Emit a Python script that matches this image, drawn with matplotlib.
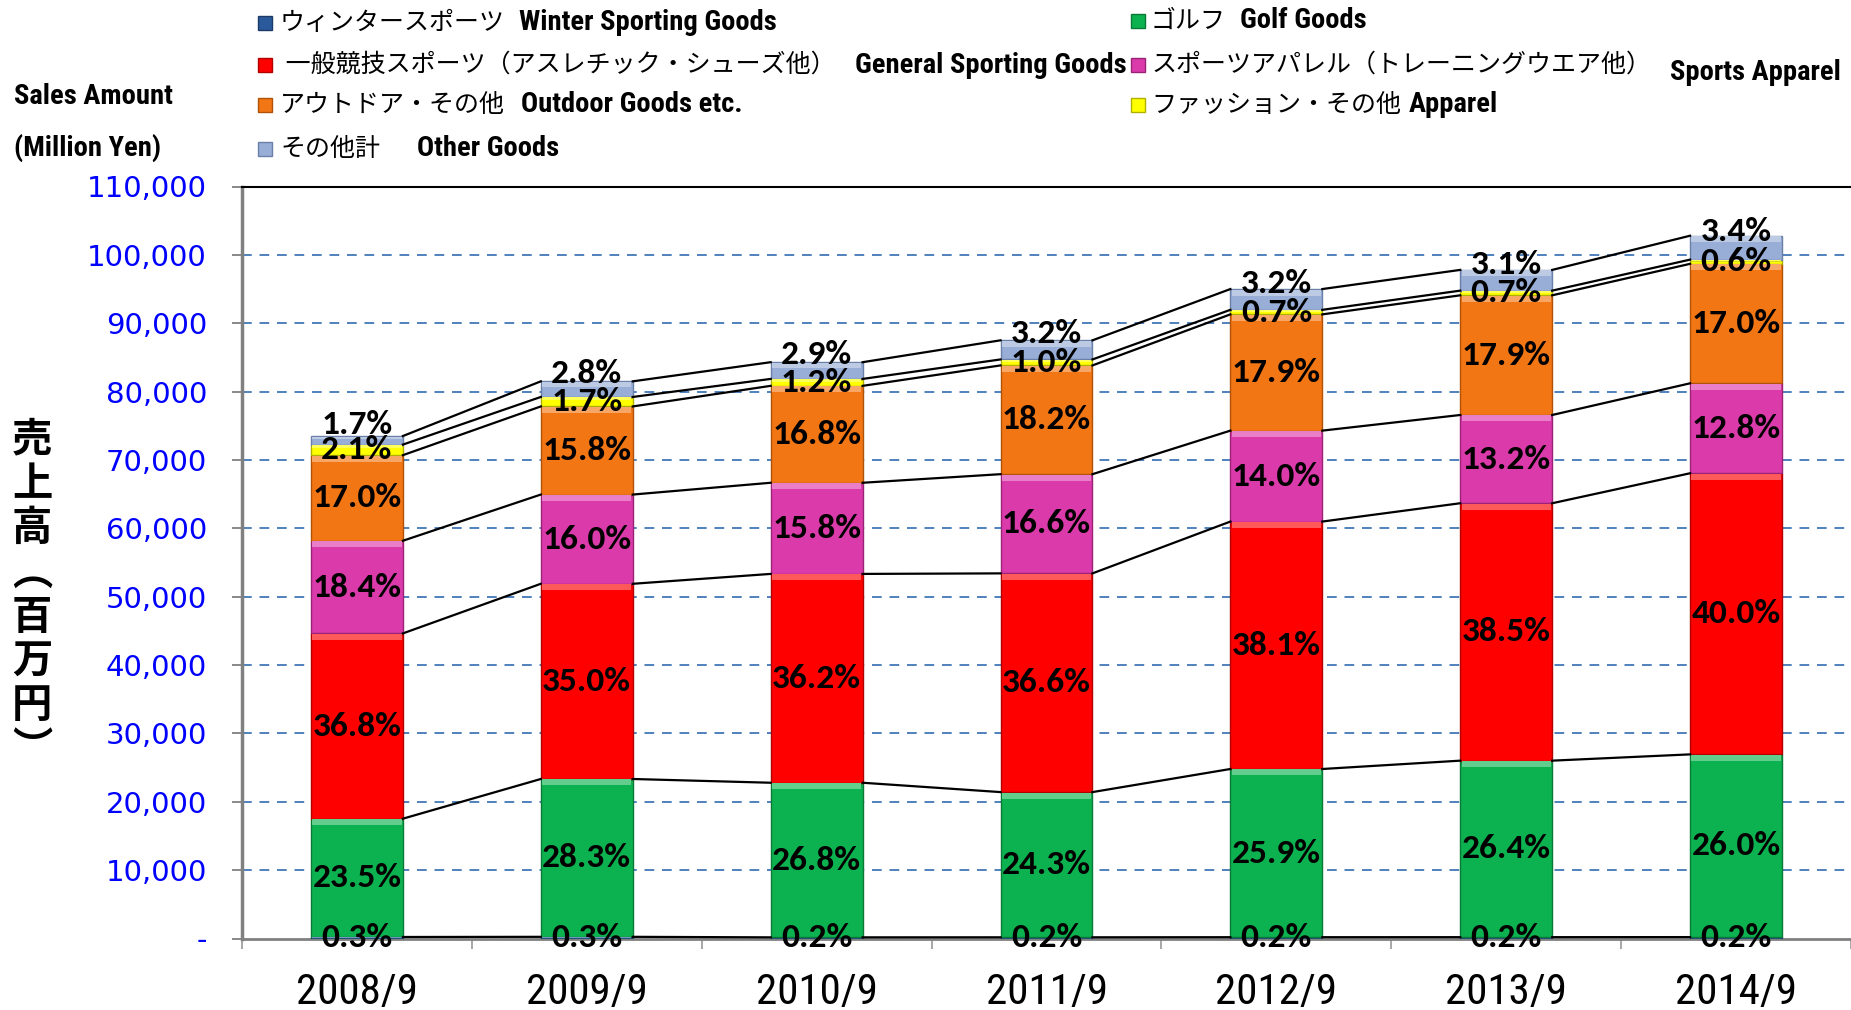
import numpy as np
import matplotlib.pyplot as plt
from matplotlib import font_manager
from matplotlib.colors import to_rgb
from matplotlib.patches import Rectangle


def pick_font(*names):
    for name in names:
        try:
            font_manager.findfont(font_manager.FontProperties(family=name),
                                  fallback_to_default=False)
            return name
        except ValueError:
            pass
    return "DejaVu Sans"


def lighter(c, f=0.35):
    r = np.array(to_rgb(c))
    return tuple(r + (1 - r) * f)


NARROW = pick_font("Liberation Sans Narrow", "Roboto Condensed", "DejaVu Sans")
LABEL_FONT = pick_font("Carlito", "Lato", "DejaVu Sans")
JP = "Noto Sans CJK JP"

periods = ["2008/9", "2009/9", "2010/9", "2011/9", "2012/9", "2013/9", "2014/9"]
# total sales, million yen
totals = [73500, 81500, 84300, 87500, 95000, 97800, 102800]

# share of each category in %, stacked bottom to top
winter_pct = [0.3, 0.3, 0.2, 0.2, 0.2, 0.2, 0.2]
golf_pct = [23.5, 28.3, 26.8, 24.3, 25.9, 26.4, 26.0]
general_pct = [36.8, 35.0, 36.2, 36.6, 38.1, 38.5, 40.0]
apparel_pct = [18.4, 16.0, 15.8, 16.6, 14.0, 13.2, 12.8]
outdoor_pct = [17.0, 15.8, 16.8, 18.2, 17.9, 17.9, 17.0]
fashion_pct = [2.1, 1.7, 1.2, 1.0, 0.7, 0.7, 0.6]
other_pct = [1.7, 2.8, 2.9, 3.2, 3.2, 3.1, 3.4]

series_pct = [winter_pct, golf_pct, general_pct, apparel_pct,
              outdoor_pct, fashion_pct, other_pct]
colors = ["#2B5A9C", "#0DB250", "#FF0000", "#DB3AAA",
          "#F27614", "#FFFF00", "#98AED6"]
edges = ["#1B3A66", "#087A36", "#B00000", "#9A2378",
         "#B05208", "#B0B000", "#6A80A8"]

ytick_vals = list(range(0, 110001, 10000))

fig = plt.figure(figsize=(18.51, 10.10), dpi=100)
ax = fig.add_axes([242 / 1851, 1 - 938.5 / 1010, 1 - 242 / 1851, 752 / 1010])

x = np.arange(len(periods))
pct = np.array(series_pct)
values = pct / pct.sum(axis=0) * np.array(totals)
bottoms = np.vstack([np.zeros(len(periods)), np.cumsum(values, axis=0)[:-1]])
tops = bottoms + values
w = 0.4
px = 110000 / 752  # data units per pixel

for k in range(len(series_pct)):
    ax.bar(x, values[k], w, bottom=bottoms[k], color=colors[k],
           edgecolor=edges[k], linewidth=1, zorder=3)
    # bevel highlight along the top of each block
    band = np.minimum(6 * px, values[k] * 0.3)
    ax.bar(x, band, w * 0.97, bottom=tops[k] - band - 0.5 * px,
           color=lighter(colors[k]), linewidth=0, zorder=3.5)
    # series lines between bars
    lx, ly = [], []
    for i in range(len(periods) - 1):
        lx += [x[i] + w / 2, x[i + 1] - w / 2, np.nan]
        ly += [tops[k][i], tops[k][i + 1], np.nan]
    ax.plot(lx, ly, color="black", lw=1.6, zorder=4)
    # percentage labels
    for i in range(len(periods)):
        yc = bottoms[k][i] + values[k][i] / 2
        dy = 16 if k == len(series_pct) - 1 else 0
        ax.annotate(f"{series_pct[k][i]:.1f}%", (x[i], yc), xytext=(0, dy),
                    textcoords="offset pixels", ha="center", va="center",
                    fontsize=25.5, fontweight="bold", family=LABEL_FONT,
                    color="black", zorder=6)

ax.set_xlim(-0.5, len(periods) - 0.5)
ax.set_ylim(0, 110000)
ax.set_yticks(ytick_vals)
ax.set_yticklabels(["-" if v == 0 else f"{v:,}" for v in ytick_vals],
                   color="#0000FF", fontsize=21, family="DejaVu Sans")
ax.tick_params(axis="y", direction="out", length=7.2, width=1.3,
               color="#808080", pad=18)
for v in ytick_vals[1:-1]:
    ax.axhline(v, color="#4F81BD", lw=1.4, ls=(0, (5, 4)), zorder=1)

ax.set_xticks(x)
ax.set_xticklabels(periods, fontsize=31, family=NARROW)
ax.set_xticks(np.arange(-0.5, len(periods)), minor=True)
ax.tick_params(axis="x", which="major", length=0, pad=24)
ax.tick_params(axis="x", which="minor", direction="out", length=7.5,
               width=1.3, color="#A0A0A0")

ax.spines["right"].set_visible(False)
ax.spines["top"].set_color("black")
ax.spines["top"].set_linewidth(1.5)
ax.spines["left"].set_color("#808080")
ax.spines["left"].set_linewidth(2.5)
ax.spines["bottom"].set_color("#808080")
ax.spines["bottom"].set_linewidth(2)

# vertical axis title
fig.text(32 / 1851, 1 - 595 / 1010, "売\n上\n高\n︵\n百\n万\n円\n︶",
         family=JP, fontweight="bold", fontsize=29, linespacing=1.1,
         ha="center", va="center")
fig.text(14 / 1851, 1 - 97 / 1010, "Sales Amount", family=NARROW,
         fontweight="bold", fontsize=20.5, va="center")
fig.text(14 / 1851, 1 - 148 / 1010, "(Million Yen)", family=NARROW,
         fontweight="bold", fontsize=20.5, va="center")

# legend, laid out like the original
legend_jp = ["ウィンタースポーツ", "ゴルフ", " 一般競技スポーツ（アスレチック・シューズ他）",
             "スポーツアパレル（トレーニングウエア他）", "アウトドア・その他",
             "ファッション・その他", "その他計"]
legend_en = ["Winter Sporting Goods", "Golf Goods", "General Sporting Goods",
             "Sports Apparel", "Outdoor Goods etc.", "Apparel", "Other Goods"]
# (marker x, jp x, en x, row y, en y) in reference pixels
legend_pos = [(265, 280, 519, 23, 23), (1138, 1151, 1240, 21, 21),
              (265, 280, 855, 65, 65), (1138, 1151, 1670, 65, 73),
              (265, 280, 521, 105, 105), (1138, 1151, 1402, 105, 105),
              (265, 280, 417, 149, 149)]
fig.canvas.draw()
renderer = fig.canvas.get_renderer()
for k, (mx, jx, ex, ry, ey) in enumerate(legend_pos):
    fig.add_artist(Rectangle(((mx - 7) / 1851, 1 - (ry + 7) / 1010),
                             14 / 1851, 14 / 1010, transform=fig.transFigure,
                             facecolor=colors[k], edgecolor=edges[k], lw=1))
    t = fig.text(jx / 1851, 1 - ry / 1010, legend_jp[k], family=JP,
                 fontsize=18, va="center")
    jp_end = t.get_window_extent(renderer).x1
    ex = max(ex, jp_end + 8)
    fig.text(ex / 1851, 1 - ey / 1010, legend_en[k], family=NARROW,
             fontweight="bold", fontsize=20.5, va="center")

fig.savefig("out.png", dpi=100)
